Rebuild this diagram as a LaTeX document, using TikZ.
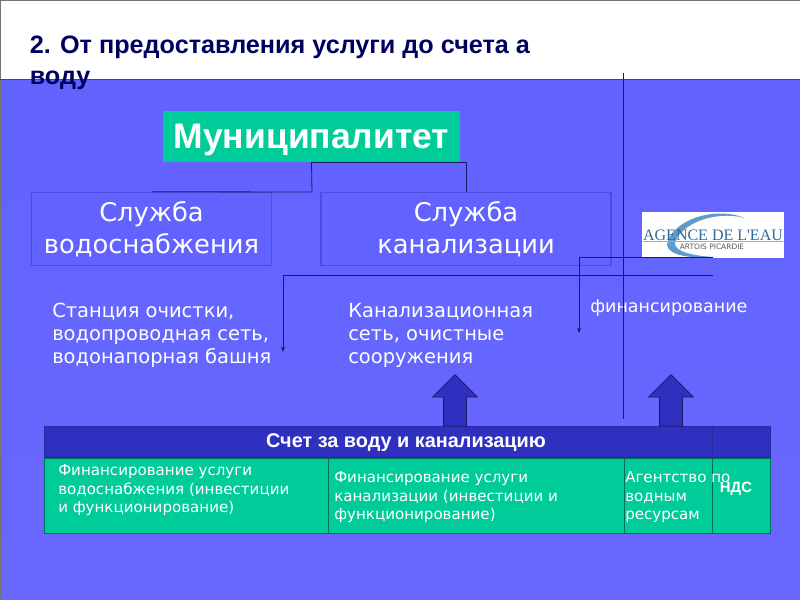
\documentclass[tikz,border=0pt]{standalone}
\usepackage{fontspec}
\setmainfont{DejaVu Sans}
\newfontfamily\arialfont{Liberation Sans}
\newfontfamily\logofont{Liberation Serif}
\usepackage{xcolor}
\usetikzlibrary{arrows.meta,positioning,shapes.arrows}
\definecolor{slidebg}{HTML}{6262FF}
\definecolor{tealbox}{HTML}{00CC99}
\definecolor{darkblue}{HTML}{3030C0}
\definecolor{edgeblue}{HTML}{4C4CE0}
\definecolor{linenavy}{HTML}{1A1A60}
\definecolor{titlenavy}{HTML}{000060}
\definecolor{logoblue}{HTML}{5F9BCB}
\definecolor{logotext}{HTML}{2F6A9E}

\begin{document}
\begin{tikzpicture}[
  x=0.75pt, y=-0.75pt,
  srv/.style={draw=edgeblue, line width=0.9pt, fill=slidebg, align=center, text=white,
              minimum width=179.5pt, minimum height=55pt, inner sep=0pt,
              font=\fontsize{19.3}{24}\selectfont},
  desc/.style={align=left, text=white, anchor=north west, inner sep=0pt,
               font=\fontsize{14.6}{17.3}\selectfont},
  cell/.style={draw=black!45!tealbox, line width=0.7pt, fill=tealbox, anchor=north west,
               minimum height=56.5pt, inner sep=0pt},
  celltxt/.style={align=left, text=white, anchor=north west, inner sep=0pt,
                  font=\fontsize{11.3}{13.8}\selectfont},
  hd/.style={draw=darkblue!85!black, line width=0.7pt, fill=darkblue, anchor=north west,
             minimum height=23.5pt, inner sep=0pt},
  uparrow/.style={single arrow, draw=linenavy, line width=0.6pt, fill=darkblue, shape border rotate=90,
                  minimum height=38.5pt, single arrow head extend=8.25pt,
                  single arrow tip angle=90, inner sep=8.25pt},
  conn/.style={draw=linenavy, line width=0.6pt},
  arr/.style={conn, -{Stealth[length=4pt,width=3pt]}}
]
\useasboundingbox (0,0) rectangle (800,600);
% slide
\fill[white] (0,0) rectangle (800,600);
\shade[top color=slidebg, bottom color=slidebg!96!white] (0,79) rectangle (800,600);
\draw[black!55, line width=0.7pt] (0,600) -- (0,0) -- (800,0);
\draw[black!70, line width=0.7pt] (0,79) -- (800,79);
\node[anchor=north west, align=left, inner sep=0pt, text=titlenavy,
      font=\arialfont\bfseries\fontsize{18.9}{23.2}\selectfont] (title) at (29.5,35.5)
  {2. От предоставления услуги до счета а\\воду};

\node[fill=tealbox, text=white, minimum width=223pt, minimum height=38pt, inner sep=0pt,
      text height=23pt, text depth=5.5pt,
      font=\arialfont\bfseries\fontsize{26.6}{28}\selectfont] (mun) at (311.5,136.5) {Муниципалитет};
\node[srv] (vod) at (151.5,229) {Служба\\водоснабжения};
\node[srv, minimum width=217.5pt] (kan) at (466,229) {Служба\\канализации};

% logo
\node[fill=white, minimum width=106.5pt, minimum height=34.5pt, inner sep=0pt] (logo) at (713,235) {};
\fill[logoblue] (745,218) .. controls (712,205) and (670,222) .. (667,245)
  .. controls (668,256) and (695,259) .. (714,257)
  .. controls (695,256) and (674,252) .. (675,243)
  .. controls (680,224) and (715,210) .. (745,218) -- cycle;
\node[text=logotext, font=\logofont\fontsize{12}{12}\selectfont, inner sep=0pt] (logoname) at (713,235) {AGENCE DE L'EAU};
\draw[red!50!black!40, line width=0.5pt] (643,241.5) -- (783,241.5);
\node[text=black!65, font=\fontsize{5.6}{6}\selectfont, inner sep=0pt] (logosub) at (712,246.5) {ARTOIS PICARDIE};

\node[desc] (st) at (52,303) {Станция очистки,\\водопроводная сеть,\\водонапорная башня};
\node[desc] (ks) at (348,303) {Канализационная\\сеть, очистные\\сооружения};
\node[desc, anchor=west, font=\fontsize{13.1}{15}\selectfont] (fin) at (590,308) {финансирование};

% table
\node[hd, minimum width=544.5pt] (hdr) at (44,426) {};
\node[hd, minimum width=43.5pt] (hdrn) at (712,426) {};
\node[text=white, inner sep=0pt, font=\arialfont\bfseries\fontsize{14.9}{17}\selectfont] (hdrtxt) at (406,443) {Счет за воду и канализацию};
\node[cell, minimum width=213pt] (c1) at (44,457.5) {};
\node[cell, minimum width=222pt] (c2) at (328,457.5) {};
\node[cell, minimum width=66pt] (c3) at (624,457.5) {};
\node[cell, minimum width=43.5pt] (c4) at (712,457.5) {};
\node[celltxt] at (58,464.5) {Финансирование услуги\\водоснабжения (инвестиции\\и функционирование)};
\node[celltxt] at (334,471.5) {Финансирование услуги\\канализации (инвестиции и\\функционирование)};
\node[celltxt] at (625,471.5) {Агентство по\\водным\\ресурсам};
\node[text=white, inner sep=0pt, font=\arialfont\bfseries\fontsize{11.2}{12}\selectfont] at (736,489) {НДС};

\node[uparrow] (up1) at (455,406) {};
\node[uparrow] (up2) at (671,406) {};

% connectors
\coordinate (split) at (312,192);
\draw[conn] (mun.south) -- (split) -- (vod.north);
\draw[conn] (mun.south) -| (kan.north);
\coordinate (vtop) at (623,73);
\coordinate (vbot) at (623,419);
\draw[conn] (vtop) -- (vbot);
\coordinate (f1end) at (713,257);
\coordinate (f1tip) at (579,333);
\draw[arr] (f1end) -| (f1tip);
\coordinate (f2end) at (713,275);
\coordinate (f2tip) at (283,352);
\draw[arr] (f2end) -| (f2tip);
\end{tikzpicture}
\end{document}
